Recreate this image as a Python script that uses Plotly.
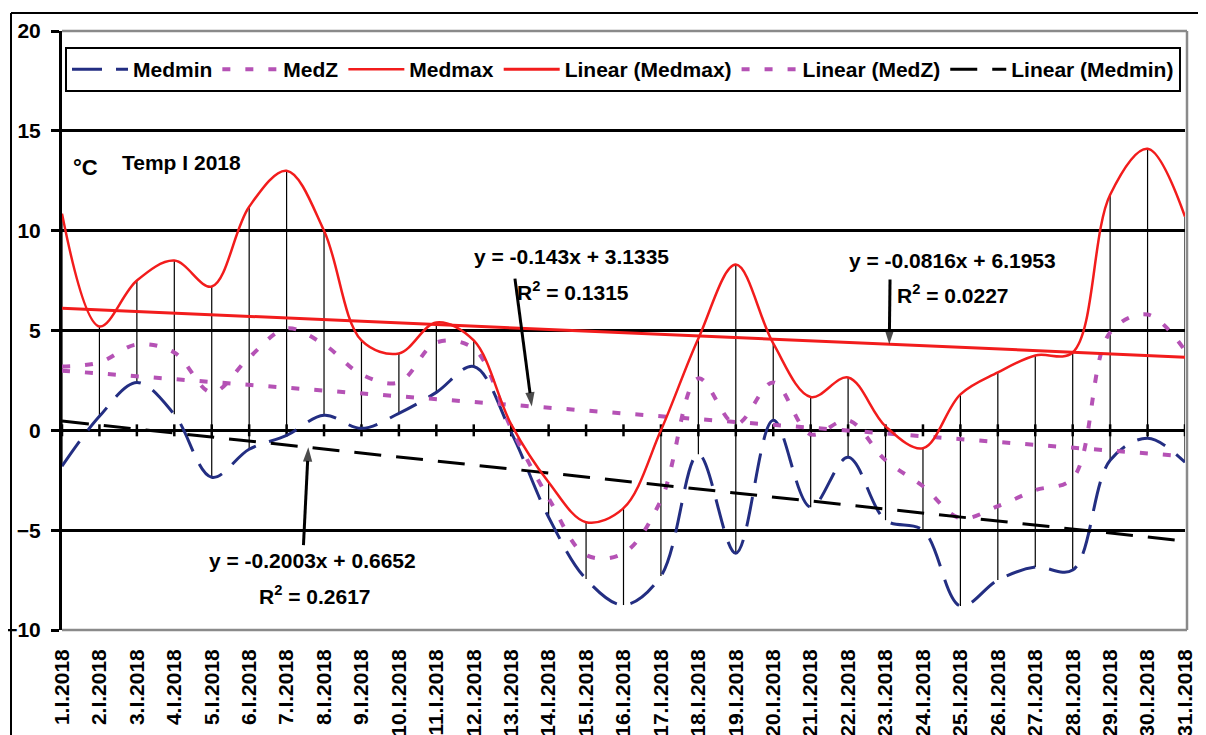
import plotly.graph_objects as go

# ---------------- data ----------------
days = list(range(1, 32))
day_labels = [
    "1.I.2018", "2.I.2018", "3.I.2018", "4.I.2018", "5.I.2018", "6.I.2018",
    "7.I.2018", "8.I.2018", "9.I.2018", "10.I.2018", "11.I.2018", "12.I.2018",
    "13.I.2018", "14.I.2018", "15.I.2018", "16.I.2018", "17.I.2018", "18.I.2018",
    "19.I.2018", "20.I.2018", "21.I.2018", "22.I.2018", "23.I.2018", "24.I.2018",
    "25.I.2018", "26.I.2018", "27.I.2018", "28.I.2018", "29.I.2018", "30.I.2018",
    "31.I.2018",
]
medmin = [-1.8, 0.7, 2.4, 0.8, -2.35, -0.95, -0.25, 0.75, 0.1, 0.85, 1.9, 3.2,
          -0.1, -4.35, -7.45, -8.75, -7.3, -1.2, -6.15, 0.5, -3.85, -1.35, -4.5,
          -5.0, -8.8, -7.5, -6.85, -7.0, -1.5, -0.4, -1.6]
medz = [3.2, 3.4, 4.3, 3.9, 1.9, 3.65, 5.1, 4.3, 2.8, 2.4, 4.4, 4.1,
        0.1, -3.4, -6.25, -6.15, -3.5, 2.6, 0.3, 2.4, -0.2, 0.5, -1.5,
        -2.8, -4.4, -3.8, -3.0, -2.4, 4.9, 5.8, 4.0]
medmax = [10.85, 5.2, 7.5, 8.5, 7.2, 11.2, 13.0, 10.0, 4.5, 3.85, 5.4, 4.5,
          0.3, -2.6, -4.6, -3.9, 0.0, 4.6, 8.3, 4.35, 1.67, 2.65, 0.2,
          -0.9, 1.8, 2.9, 3.75, 3.9, 11.8, 14.1, 10.7]

# trend-line equations printed on the chart: (slope, intercept, R^2)
trend_medmax = (-0.0816, 6.1953, 0.0227)
trend_medz = (-0.143, 3.1335, 0.1315)
trend_medmin = (-0.2003, 0.6652, 0.2617)

y_ticks = [-10, -5, 0, 5, 10, 15, 20]

# ---------------- style ----------------
FONT = "Liberation Sans"
NAVY = "#232E82"
PURPLE = "#B552B5"
RED = "#F21C1C"
GRAY = "#8A8A8A"
PAGE_OFF = 8                     # default body margin of the html page
W, H = 1206 - PAGE_OFF, 735 - PAGE_OFF
ML, MR, MT, MB = 62 - PAGE_OFF, 21, 31 - PAGE_OFF, 105
YMIN, YMAX = y_ticks[0], y_ticks[-1]
pw = W - ML - MR
ph = H - MT - MB


def trend(coef):
    s, b, _ = coef
    return [s * d + b for d in days]


def tval(coef, x):
    return coef[0] * x + coef[1]


fig = go.Figure()

# high-low lines
hl_x, hl_y = [], []
for d, a, b, c in zip(days, medmin, medz, medmax):
    hl_x += [d, d, None]
    hl_y += [max(a, b, c), min(a, b, c), None]
fig.add_trace(go.Scatter(x=hl_x, y=hl_y, mode="lines", showlegend=False,
                         hoverinfo="skip", line=dict(color="black", width=1.2)))

# category tick marks crossing the zero line
tk_x, tk_y = [], []
for d in days:
    tk_x += [d, d, None]
    tk_y += [-0.3, 0.3, None]
fig.add_trace(go.Scatter(x=tk_x, y=tk_y, mode="lines", showlegend=False,
                         hoverinfo="skip", line=dict(color="black", width=2.5)))

# data series
fig.add_trace(go.Scatter(x=days, y=medmin, name="Medmin", mode="lines", legendrank=1,
                         line=dict(color=NAVY, width=3, dash="30px,14px",
                                   shape="spline", smoothing=1)))
fig.add_trace(go.Scatter(x=days, y=medz, name="MedZ", mode="lines", legendrank=2,
                         line=dict(color=PURPLE, width=4, dash="8px,15px",
                                   shape="spline", smoothing=1)))

# trend lines
fig.add_trace(go.Scatter(x=days, y=trend(trend_medmax), name="Linear (Medmax)",
                         mode="lines", legendrank=4,
                         line=dict(color=RED, width=3)))
fig.add_trace(go.Scatter(x=days, y=trend(trend_medz), name="Linear (MedZ)",
                         mode="lines", legendrank=5,
                         line=dict(color=PURPLE, width=4, dash="8px,15px")))
fig.add_trace(go.Scatter(x=days, y=trend(trend_medmin), name="Linear (Medmin)",
                         mode="lines", legendrank=6,
                         line=dict(color="black", width=3, dash="27px,15px")))

fig.add_trace(go.Scatter(x=days, y=medmax, name="Medmax", mode="lines", legendrank=3,
                         line=dict(color=RED, width=2.5, shape="spline", smoothing=1)))

tfont = dict(family=FONT, size=21, color="black", weight="bold")


def eq_text(coef):
    s, b, _ = coef
    return f"y = {s:g}x + {b:g}"


def r2_text(coef):
    return f"R<sup>2</sup> = {coef[2]:g}"


# (coef, eq x, eq y, R2 x, R2 y, arrow tail x, tail y, arrow tip x on trend line)
notes = [
    (trend_medz, 14.62, 8.7, 14.64, 7.0, 13.10, 7.6, 13.55),
    (trend_medmax, 24.79, 8.5, 24.80, 6.85, 23.12, 7.55, 23.10),
    (trend_medmin, 7.69, -6.5, 7.76, -8.25, 7.45, -5.75, 7.58),
]
for coef, ex, ey, rx, ry, axx, ayy, tipx in notes:
    fig.add_annotation(x=ex, y=ey, text=eq_text(coef), showarrow=False, font=tfont)
    fig.add_annotation(x=rx, y=ry, text=r2_text(coef), showarrow=False, font=tfont)
    fig.add_trace(go.Scatter(
        x=[axx, tipx], y=[ayy, tval(coef, tipx)], mode="lines+markers",
        showlegend=False, hoverinfo="skip",
        line=dict(color="black", width=3),
        marker=dict(symbol=["circle", "arrow"], size=[0, 15], color="black",
                    angleref="previous", line=dict(width=0)),
    ))

fig.add_annotation(x=1.64, y=13.15, text="°C", showarrow=False,
                   font=dict(family=FONT, size=22, color="black", weight="bold"))
fig.add_annotation(x=4.2, y=13.4, text="Temp I 2018", showarrow=False, font=tfont)

# plot-area border (gray) and chart-area border (black)
xr = (pw + 2) / pw
fig.add_shape(type="line", xref="paper", yref="paper", x0=0, x1=xr, y0=1, y1=1,
              line=dict(color=GRAY, width=2.5), layer="above")
fig.add_shape(type="line", xref="paper", yref="paper", x0=0, x1=xr, y0=0, y1=0,
              line=dict(color=GRAY, width=2.5), layer="above")
fig.add_shape(type="line", xref="paper", yref="paper", x0=xr, x1=xr, y0=0, y1=1,
              line=dict(color=GRAY, width=2.5), layer="above")
fig.add_shape(type="line", xref="paper", yref="paper", x0=-51 / pw, x1=(W + 10 - ML) / pw,
              y0=(ph + 18) / ph, y1=(ph + 18) / ph, line=dict(color="black", width=2))
fig.add_shape(type="line", xref="paper", yref="paper", x0=-51 / pw, x1=-51 / pw,
              y0=(ph + 18) / ph, y1=-(MB + 10) / ph, line=dict(color="black", width=2))

fig.update_layout(
    width=W, height=H,
    margin=dict(l=ML, r=MR, t=MT, b=MB, autoexpand=False),
    paper_bgcolor="white", plot_bgcolor="white",
    font=dict(family=FONT, size=21, color="black"),
    showlegend=True,
    legend=dict(orientation="h", x=3 / pw, xanchor="left", y=(ph - 16) / ph,
                yanchor="top", bordercolor="black", borderwidth=2, bgcolor="white",
                font=dict(family=FONT, size=21, color="black", weight="bold"),
                itemwidth=56, tracegroupgap=0, traceorder="normal"),
    xaxis=dict(range=[1, 31], tickvals=days, ticktext=day_labels, tickangle=-90,
               showgrid=False, zeroline=False, showline=False, ticks="",
               tickfont=dict(family=FONT, size=21, color="black", weight="bold"),
               ticklabelstandoff=14, automargin=False),
    yaxis=dict(range=[YMIN, YMAX], tickvals=y_ticks, showgrid=True, gridcolor="black",
               gridwidth=2.5, zeroline=True, zerolinecolor="black", zerolinewidth=3,
               showline=True, linecolor="black", linewidth=3, ticks="outside",
               ticklen=8, tickwidth=2.5, tickcolor="black",
               tickfont=dict(family=FONT, size=21, color="black", weight="bold"),
               ticklabelstandoff=6, automargin=False),
)

fig.write_html("out.html")
